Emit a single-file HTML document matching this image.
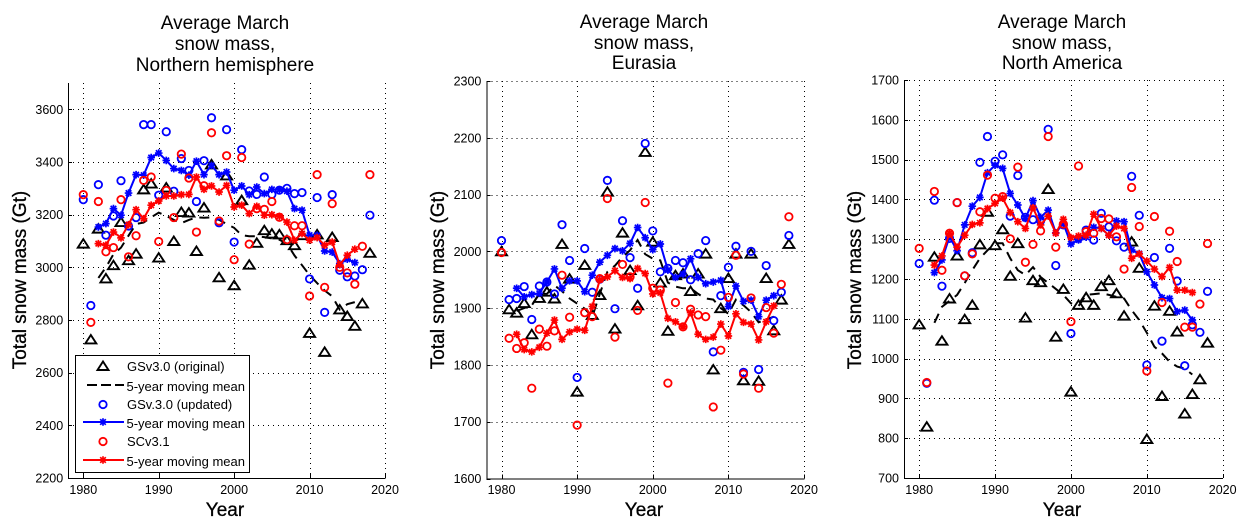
<!DOCTYPE html>
<html lang="en">
<head>
<meta charset="utf-8">
<title>Average March snow mass</title>
<style>
  html, body { margin: 0; padding: 0; background: #fff; }
  #figure { display: block; width: 1247px; height: 528px; }
  text { font-family: "Liberation Sans", Arial, sans-serif; fill: #000; }
  .title { font-size: 19px; text-anchor: middle; }
  .axis-label { font-size: 19px; text-anchor: middle; stroke: #000; stroke-width: 0.3px; }
  .tick { font-size: 12.5px; }
  .legend-text { font-size: 13px; }
</style>
</head>
<body>
<svg id="figure" xmlns="http://www.w3.org/2000/svg" width="1247" height="528" viewBox="0 0 1247 528">
  <rect x="0" y="0" width="1247" height="528" fill="#fff"/>
  <g>
    <text class="title" x="225" y="29"><tspan x="225" y="29">Average March</tspan><tspan x="225" y="50">snow mass,</tspan><tspan x="225" y="71">Northern hemisphere</tspan></text>
    <text class="axis-label" x="225" y="516">Year</text>
    <text class="axis-label" transform="translate(26 280) rotate(-90)">Total snow mass (Gt)</text>
  </g>
  <g>
    <text class="title" x="644" y="28"><tspan x="644" y="28">Average March</tspan><tspan x="644" y="49">snow mass,</tspan><tspan x="644" y="69">Eurasia</tspan></text>
    <text class="axis-label" x="644" y="516">Year</text>
    <text class="axis-label" transform="translate(444 280) rotate(-90)">Total snow mass (Gt)</text>
  </g>
  <g>
    <text class="title" x="1062" y="28"><tspan x="1062" y="28">Average March</tspan><tspan x="1062" y="49">snow mass,</tspan><tspan x="1062" y="69">North America</tspan></text>
    <text class="axis-label" x="1062" y="516">Year</text>
    <text class="axis-label" transform="translate(861 280) rotate(-90)">Total snow mass (Gt)</text>
  </g>
  <g id="plots"></g>
  <g>
    <rect x="75.5" y="355.5" width="174" height="117" fill="#fff" stroke="#000" stroke-width="1" shape-rendering="crispEdges"/>
    <g id="legend-marks"></g>
    <text class="legend-text" x="127" y="371">GSv3.0 (original)</text>
    <text class="legend-text" x="126.5" y="391">5-year moving mean</text>
    <text class="legend-text" x="127" y="409">GSv.3.0 (updated)</text>
    <text class="legend-text" x="126.5" y="428">5-year moving mean</text>
    <text class="legend-text" x="127" y="446">SCv3.1</text>
    <text class="legend-text" x="126.5" y="466">5-year moving mean</text>
  </g>
</svg>
<script>
const years = [1980,1981,1982,1983,1984,1985,1986,1987,1988,1989,1990,1991,1992,1993,1994,1995,1996,1997,1998,1999,2000,2001,2002,2003,2004,2005,2006,2007,2008,2009,2010,2011,2012,2013,2014,2015,2016,2017,2018];
const meanYears = [1982,1983,1984,1985,1986,1987,1988,1989,1990,1991,1992,1993,1994,1995,1996,1997,1998,1999,2000,2001,2002,2003,2004,2005,2006,2007,2008,2009,2010,2011,2012,2013,2014,2015,2016];
const xTicks = [1980,1990,2000,2010,2020];

const nhYTicks = [2200,2400,2600,2800,3000,3200,3400,3600];
const nhOriginal = [3090,2726,3147,2958,3008,3172,3027,3052,3296,3318,3037,3303,3100,3210,3208,3062,3227,3391,2962,3349,2932,3255,3010,3093,3141,3128,3125,3103,3084,3122,2751,3125,2679,3115,2840,2815,2778,2863,3055];
const nhOriginalMean = [2960,3000,3050,3075,3120,3165,3170,3190,3208,3195,3180,3168,3180,3190,3188,3190,3180,3165,3150,3122,3118,3118,3115,3110,3105,3090,3045,3008,2970,2940,2912,2890,2840,2860,2868];
const nhUpdated = [3257,2855,3314,3122,3195,3329,3157,3189,3542,3542,3274,3515,3289,3413,3368,3250,3405,3568,3169,3523,3096,3447,3290,3277,3343,3277,3293,3300,3280,3284,2956,3265,2829,3276,2989,2964,2967,2991,3198];
const nhUpdatedMean = [3153,3166,3223,3198,3282,3352,3350,3417,3434,3406,3375,3368,3350,3403,3352,3387,3352,3362,3293,3309,3276,3305,3280,3296,3295,3289,3223,3217,3122,3122,3062,3058,3014,3031,3018];
const nhSc = [3276,2791,3250,3059,3075,3257,3040,3120,3330,3343,3098,3292,3189,3430,3339,3134,3310,3511,3176,3424,3029,3417,3088,3223,3220,3250,3190,3105,3158,3158,2891,3352,2924,3242,3000,2979,2936,3080,3352];
const nhScMean = [3090,3084,3134,3112,3162,3219,3185,3236,3252,3271,3271,3276,3277,3343,3296,3309,3286,3311,3229,3236,3204,3232,3198,3200,3194,3172,3103,3128,3103,3113,3084,3096,3010,3046,3069];

const euYTicks = [1600,1700,1800,1900,2000,2100,2200,2300];
const euOriginal = [2000,1898,1892,1909,1854,1918,1929,1917,2013,1952,1753,1976,1888,1923,2105,1864,2033,1967,1905,2175,2017,1945,1860,1958,1961,1930,1961,1996,1792,1900,1953,1996,1773,1996,1772,1953,1861,1915,2013];
const euOriginalMean = [1895,1900,1905,1925,1925,1940,1930,1917,1908,1899,1885,1925,1964,1975,1990,2002,2020,1995,1987,1984,1945,1938,1935,1935,1925,1917,1915,1900,1890,1915,1905,1893,1875,1880,1885];
const euUpdated = [2019,1915,1917,1938,1880,1939,1946,1925,2047,1984,1778,2005,1928,1951,2125,1899,2054,1989,1935,2190,2036,1964,1970,1984,1980,1950,1996,2019,1823,1922,1972,2009,1787,2000,1792,1975,1878,1928,2028];
const euUpdatedMean = [1935,1920,1924,1926,1946,1969,1935,1948,1948,1929,1958,1981,1993,2005,2001,2014,2042,2024,2003,2013,1967,1954,1960,1987,1954,1943,1946,1949,1903,1939,1912,1914,1885,1914,1922];
const euSc = [1998,1847,1829,1839,1759,1863,1833,1860,1958,1884,1694,1892,1885,1952,2093,1849,1977,1955,1896,2086,1935,1932,1768,1910,1867,1898,1888,1885,1726,1826,1919,1993,1784,1918,1759,1901,1856,1942,2061];
const euScMean = [1854,1827,1823,1831,1856,1879,1845,1858,1863,1861,1903,1950,1955,1966,1954,1952,1970,1961,1925,1927,1882,1876,1867,1892,1854,1845,1849,1872,1851,1890,1875,1872,1844,1876,1904];

const naYTicks = [700,800,900,1000,1100,1200,1300,1400,1500,1600,1700];
const naOriginal = [1086,829,1256,1045,1151,1259,1099,1135,1287,1369,1285,1325,1208,1290,1103,1197,1192,1426,1055,1175,917,1135,1154,1135,1182,1197,1164,1108,1294,1228,798,1133,906,1120,1068,862,911,948,1040];
const naOriginalMean = [1090,1130,1145,1160,1190,1222,1252,1272,1290,1290,1252,1222,1210,1230,1205,1190,1175,1160,1139,1132,1160,1162,1164,1160,1155,1151,1122,1097,1065,1030,1013,992,980,975,960];
const naUpdated = [1239,938,1398,1182,1302,1392,1208,1266,1493,1558,1496,1512,1358,1460,1355,1349,1346,1576,1234,1336,1063,1302,1323,1298,1365,1331,1296,1280,1458,1360,984,1254,1044,1277,1195,982,1085,1066,1169];
const naUpdatedMean = [1216,1248,1306,1271,1336,1383,1405,1467,1486,1478,1415,1386,1352,1397,1355,1373,1316,1340,1288,1298,1305,1330,1327,1310,1346,1344,1273,1264,1218,1185,1153,1151,1118,1122,1097];
const naSc = [1277,940,1420,1222,1315,1392,1208,1263,1369,1461,1403,1407,1301,1481,1242,1287,1321,1558,1280,1338,1093,1484,1319,1315,1352,1351,1306,1225,1430,1332,969,1357,1141,1320,1244,1079,1079,1137,1289];
const naScMean = [1235,1258,1315,1280,1310,1337,1341,1377,1390,1403,1367,1344,1327,1379,1336,1358,1315,1350,1304,1308,1310,1363,1327,1310,1333,1327,1252,1263,1245,1225,1206,1229,1172,1172,1166];

const BLUE = '#0000ff';
const RED = '#ff0000';
const SVG_NS = 'http://www.w3.org/2000/svg';

function makeScale(d0, d1, r0, r1) {
  return function (v) { return r0 + (v - d0) * (r1 - r0) / (d1 - d0); };
}
function make(tag, parent) {
  const el = document.createElementNS(SVG_NS, tag);
  parent.appendChild(el);
  return el;
}
function trianglePath(cx, cy) {
  return 'M' + (cx - 5.5) + ' ' + (cy + 4) + 'L' + cx + ' ' + (cy - 4.5) + 'L' + (cx + 5.5) + ' ' + (cy + 4) + 'Z';
}
function starPath(cx, cy) {
  const r = 3.8, k = 2.8;
  return 'M' + (cx - r) + ' ' + cy + 'L' + (cx + r) + ' ' + cy +
         'M' + cx + ' ' + (cy - r) + 'L' + cx + ' ' + (cy + r) +
         'M' + (cx - k) + ' ' + (cy - k) + 'L' + (cx + k) + ' ' + (cy + k) +
         'M' + (cx - k) + ' ' + (cy + k) + 'L' + (cx + k) + ' ' + (cy - k);
}
function drawTriangle(parent, cx, cy) {
  const el = make('path', parent);
  
  
  el.setAttribute('d', trianglePath(cx, cy));
  el.setAttribute('fill', 'none');
  el.setAttribute('stroke', '#000');
  el.setAttribute('stroke-width', '1.9');
}
function drawCircle(parent, cx, cy, color) {
  const el = make('circle', parent);
  
  
  el.setAttribute('cx', cx);
  el.setAttribute('cy', cy);
  el.setAttribute('r', '3.7');
  el.setAttribute('fill', 'none');
  el.setAttribute('stroke', color);
  el.setAttribute('stroke-width', '1.8');
}
function drawStar(parent, cx, cy, color) {
  const el = make('path', parent);
  
  
  el.setAttribute('d', starPath(cx, cy));
  el.setAttribute('fill', 'none');
  el.setAttribute('stroke', color);
  el.setAttribute('stroke-width', '1.7');
}
function drawLine(parent, xs, ys, color, dashed, x, y) {
  const el = make('polyline', parent);
  
  
  el.setAttribute('points', xs.map(function (v, i) { return x(v).toFixed(1) + ',' + y(ys[i]).toFixed(1); }).join(' '));
  el.setAttribute('fill', 'none');
  el.setAttribute('stroke', color);
  el.setAttribute('stroke-width', '2');
  if (dashed) {
    el.setAttribute('stroke-dasharray', '10 7');
  }
}
function drawRule(parent, x1, y1, x2, y2, dotted) {
  const el = make('line', parent);
  
  
  el.setAttribute('x1', x1);
  el.setAttribute('y1', y1);
  el.setAttribute('x2', x2);
  el.setAttribute('y2', y2);
  el.setAttribute('stroke', '#000');
  el.setAttribute('stroke-width', '1');
  el.setAttribute('shape-rendering', 'crispEdges');
  if (dotted) {
    el.setAttribute('stroke-dasharray', '1 4');
  }
}
function drawTickLabel(parent, px, py, anchor, value) {
  const el = make('text', parent);
  
  
  el.setAttribute('class', 'tick');
  el.setAttribute('x', px);
  el.setAttribute('y', py);
  el.setAttribute('text-anchor', anchor);
  el.textContent = value;
}
function drawPanel(cfg) {
  const root = document.getElementById('plots');
  const g = make('g', root);
  
  
  const x = makeScale(1978, 2020, cfg.left, cfg.right);
  const y = makeScale(cfg.yMin, cfg.yMax, cfg.bottom, cfg.top);

  xTicks.forEach(function (t) {
    const px = Math.round(x(t)) + 0.5;
    drawRule(g, px, cfg.top, px, cfg.bottom, true);
    drawRule(g, px, cfg.bottom, px, cfg.bottom - 4, false);
    drawTickLabel(g, x(t), 494, 'middle', t);
  });
  cfg.yTicks.forEach(function (t) {
    const py = Math.round(y(t)) + 0.5;
    if (t !== cfg.yMin) {
      drawRule(g, cfg.left, py, cfg.right, py, true);
    }
    drawRule(g, cfg.left, py, cfg.left + 4, py, false);
    drawTickLabel(g, cfg.left - 5, y(t) + 4.5, 'end', t);
  });
  drawRule(g, cfg.left + 0.5, cfg.top, cfg.left + 0.5, cfg.bottom + 0.5, false);
  drawRule(g, cfg.left, cfg.bottom + 0.5, cfg.right + 0.5, cfg.bottom + 0.5, false);

  years.forEach(function (yr, i) {
    drawTriangle(g, x(yr), y(cfg.original[i]));
  });
  drawLine(g, meanYears, cfg.originalMean, '#000', true, x, y);
  years.forEach(function (yr, i) {
    drawCircle(g, x(yr), y(cfg.updated[i]), BLUE);
  });
  drawLine(g, meanYears, cfg.updatedMean, BLUE, false, x, y);
  meanYears.forEach(function (yr, i) {
    drawStar(g, x(yr), y(cfg.updatedMean[i]), BLUE);
  });
  years.forEach(function (yr, i) {
    drawCircle(g, x(yr), y(cfg.sc[i]), RED);
  });
  drawLine(g, meanYears, cfg.scMean, RED, false, x, y);
  meanYears.forEach(function (yr, i) {
    drawStar(g, x(yr), y(cfg.scMean[i]), RED);
  });
}

drawPanel({ name: 'northern-hemisphere', left: 68.2, right: 385, top: 83, bottom: 478, yMin: 2200, yMax: 3700, yTicks: nhYTicks,
  original: nhOriginal, originalMean: nhOriginalMean, updated: nhUpdated, updatedMean: nhUpdatedMean, sc: nhSc, scMean: nhScMean });
drawPanel({ name: 'eurasia', left: 486.4, right: 804, top: 81, bottom: 478.5, yMin: 1600, yMax: 2300, yTicks: euYTicks,
  original: euOriginal, originalMean: euOriginalMean, updated: euUpdated, updatedMean: euUpdatedMean, sc: euSc, scMean: euScMean });
drawPanel({ name: 'north-america', left: 904, right: 1222.7, top: 80, bottom: 478, yMin: 700, yMax: 1700, yTicks: naYTicks,
  original: naOriginal, originalMean: naOriginalMean, updated: naUpdated, updatedMean: naUpdatedMean, sc: naSc, scMean: naScMean });

(function () {
  const lg = document.getElementById('legend-marks');
  drawTriangle(lg, 103, 366);
  const dash = make('line', lg);
  
  
  dash.setAttribute('x1', '87');
  dash.setAttribute('y1', '385');
  dash.setAttribute('x2', '124');
  dash.setAttribute('y2', '385');
  dash.setAttribute('stroke', '#000');
  dash.setAttribute('stroke-width', '2');
  dash.setAttribute('stroke-dasharray', '10 4');
  drawCircle(lg, 103, 404.5, BLUE);
  const blueLine = make('line', lg);
  
  
  blueLine.setAttribute('x1', '83');
  blueLine.setAttribute('y1', '422');
  blueLine.setAttribute('x2', '124');
  blueLine.setAttribute('y2', '422');
  blueLine.setAttribute('stroke', BLUE);
  blueLine.setAttribute('stroke-width', '2');
  drawStar(lg, 103, 422, BLUE);
  drawCircle(lg, 103, 441.5, RED);
  const redLine = make('line', lg);
  
  
  redLine.setAttribute('x1', '83');
  redLine.setAttribute('y1', '460');
  redLine.setAttribute('x2', '124');
  redLine.setAttribute('y2', '460');
  redLine.setAttribute('stroke', RED);
  redLine.setAttribute('stroke-width', '2');
  drawStar(lg, 103, 460, RED);
})();
</script>
</body>
</html>
